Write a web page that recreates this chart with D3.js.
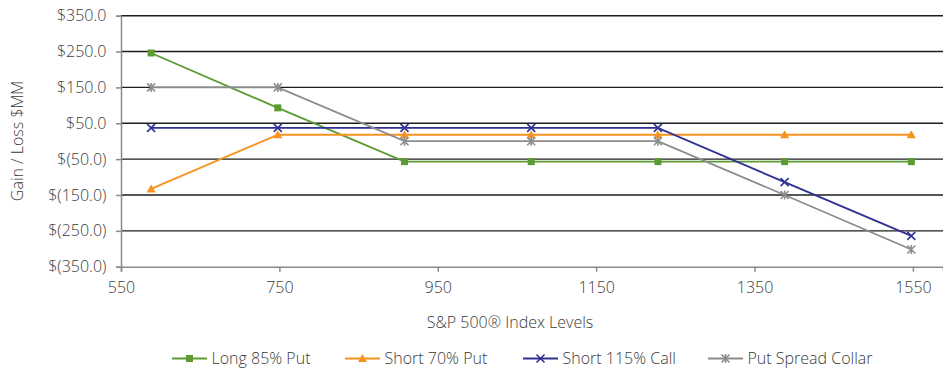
<!DOCTYPE html>
<html><head><meta charset="utf-8">
<script src="https://cdn.jsdelivr.net/npm/d3@7"></script>
<style>
html,body{margin:0;padding:0;background:#fff;}
svg{display:block;}
text{font-family:"Open Sans",sans-serif;fill:#3a3a3a;font-weight:300;}
</style></head>
<body>
<svg id="chart" width="943" height="368"></svg>
<script>
const indexLevels = [588, 748, 908, 1068, 1228, 1388, 1548];
const longPut85 = [246, 93, -57, -57, -57, -57, -57];
const shortPut70 = [-133, 18, 18, 18, 18, 18, 18];
const shortCall115 = [37, 37, 37, 37, 37, -114, -264];
const putSpreadCollar = [150, 150, 0, 0, 0, -150, -302];
const seriesNames = ["Long 85% Put", "Short 70% Put", "Short 115% Call", "Put Spread Collar"];
const xTicks = [550, 750, 950, 1150, 1350, 1550];
const yTicks = [350, 250, 150, 50, -50, -150, -250, -350];

const series = [
  {name: seriesNames[0], values: longPut85, color: "#5b9b32", marker: "square"},
  {name: seriesNames[1], values: shortPut70, color: "#f7931e", marker: "triangle"},
  {name: seriesNames[2], values: shortCall115, color: "#2e3192", marker: "x"},
  {name: seriesNames[3], values: putSpreadCollar, color: "#8c8c8c", marker: "star"}
];

const svg = d3.select("#chart");
const x = d3.scaleLinear().domain([550, 1588]).range([121, 943]);
const y = d3.scaleLinear().domain([-350, 350]).range([266.7, 15.7]);

const fmt = v => v >= 0 ? "$" + v.toFixed(1) : "$(" + Math.abs(v).toFixed(1) + ")";
const FS = 16;

// gridlines
svg.append("g").selectAll("line").data(yTicks.filter(v => v > -350)).join("line")
  .attr("x1", x(550)).attr("x2", 943)
  .attr("y1", d => y(d)).attr("y2", d => y(d))
  .attr("stroke", "#1e1e1e").attr("stroke-width", 1.4);

// y axis
const yAxis = svg.append("g").attr("transform", `translate(${x(550)},0)`)
  .call(d3.axisLeft(y).tickValues(yTicks).tickFormat(fmt).tickSize(5).tickPadding(8));
yAxis.select(".domain").attr("stroke", "#8a8a8a").attr("stroke-width", 1.5);
yAxis.selectAll(".tick line").attr("stroke", "#8a8a8a").attr("stroke-width", 1.5);
yAxis.selectAll("text").attr("font-size", FS).attr("font-family", "Open Sans").attr("font-weight", 300).attr("fill", "#3a3a3a").attr("dx", "-0.1em");

// x axis
const xAxis = svg.append("g").attr("transform", `translate(0,${y(-350)})`)
  .call(d3.axisBottom(x).tickValues(xTicks).tickFormat(d3.format("d")).tickSize(5).tickPadding(9.5));
xAxis.select(".domain").attr("stroke", "#8a8a8a").attr("stroke-width", 1.5);
xAxis.selectAll(".tick line").attr("stroke", "#8a8a8a").attr("stroke-width", 1.5);
xAxis.selectAll("text").attr("font-size", FS).attr("font-family", "Open Sans").attr("font-weight", 300).attr("fill", "#3a3a3a");

// axis titles
svg.append("text").attr("x", 510).attr("y", 328).attr("text-anchor", "middle")
  .attr("font-size", FS).text("S&P 500® Index Levels");
svg.append("text").attr("transform", "translate(23,141) rotate(-90)").attr("text-anchor", "middle")
  .attr("font-size", FS).text("Gain / Loss $MM");

function drawMarker(g, type, color) {
  if (type === "square") {
    g.append("rect").attr("x", -3.5).attr("y", -3.5).attr("width", 7).attr("height", 7).attr("fill", color);
  } else if (type === "triangle") {
    g.append("path").attr("d", "M0,-4.5L4.5,3.5L-4.5,3.5Z").attr("fill", color);
  } else if (type === "x") {
    g.append("path").attr("d", "M-4,-4L4,4M-4,4L4,-4").attr("stroke", color).attr("stroke-width", 1.6).attr("fill", "none");
  } else {
    g.append("path").attr("d", "M-4,-4L4,4M-4,4L4,-4M0,-4.5L0,4.5").attr("stroke", color).attr("stroke-width", 1.6).attr("fill", "none");
  }
}

const line = d3.line().x((d, i) => x(indexLevels[i])).y(d => y(d));
series.forEach(s => {
  const g = svg.append("g");
  g.append("path").datum(s.values).attr("d", line).attr("fill", "none")
    .attr("stroke", s.color).attr("stroke-width", 1.8);
  s.values.forEach((v, i) => {
    const m = g.append("g").attr("transform", `translate(${x(indexLevels[i])},${y(v)})`);
    drawMarker(m, s.marker, s.color);
  });
});

// legend
const legendX = [172, 345, 523, 708];
series.forEach((s, i) => {
  const g = svg.append("g").attr("transform", `translate(${legendX[i]},358.5)`);
  g.append("line").attr("x1", 0).attr("x2", 35).attr("y1", 0).attr("y2", 0)
    .attr("stroke", s.color).attr("stroke-width", 1.8);
  drawMarker(g.append("g").attr("transform", "translate(17.5,0)"), s.marker, s.color);
  g.append("text").attr("x", 39.5).attr("y", 5.5).attr("font-size", FS).text(s.name);
});
</script>
</body></html>
